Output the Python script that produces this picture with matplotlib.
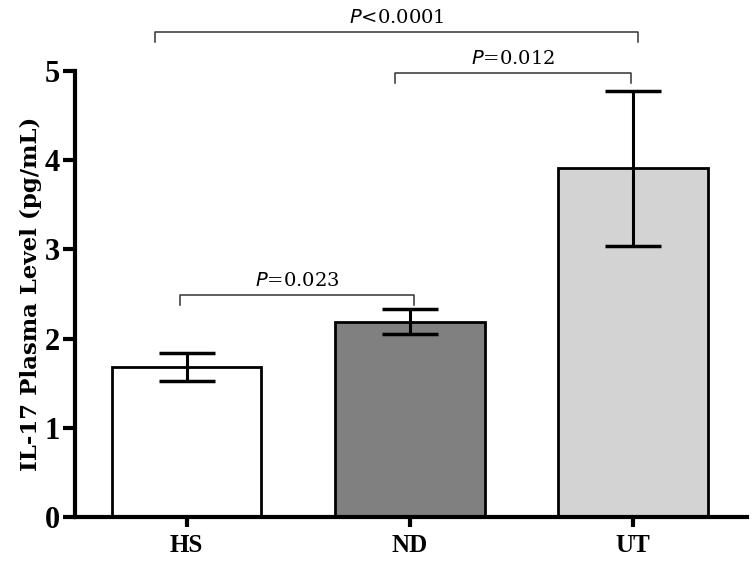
import numpy as np
import matplotlib.pyplot as plt

# Data
groups = ["HS", "ND", "UT"]
means = [1.68, 2.19, 3.91]
errors = [0.16, 0.14, 0.87]
bar_colors = ["#ffffff", "#808080", "#d3d3d3"]

# significance brackets: (left x, right x, height, label)
bracket_left = [-0.03, 0.935, -0.14]
bracket_right = [1.02, 1.99, 2.02]
bracket_y = [2.49, 4.98, 5.44]
bracket_labels = [("0.023", "="), ("0.012", "="), ("0.0001", "<")]


def main():
    fig = plt.figure(figsize=(7.55, 5.67), dpi=100)
    ax = fig.add_axes([0.0993, 0.0882, 0.890, 0.7866])

    x = np.arange(len(groups))
    ax.bar(x, means, width=0.67, color=bar_colors, edgecolor="black", linewidth=2, zorder=2)
    ax.errorbar(x, means, yerr=errors, fmt="none", ecolor="black", elinewidth=2.2,
                capsize=20, capthick=2.5, zorder=3)

    # brackets
    drop = 0.11
    for xl, xr, y, (val, op) in zip(bracket_left, bracket_right, bracket_y, bracket_labels):
        ax.plot([xl, xl, xr, xr], [y - drop, y, y, y - drop], color="#333333",
                lw=1.1, clip_on=False)
        ax.text((xl + xr) / 2, y + 0.05, r"$\it{P}$" + op + val, ha="center", va="bottom",
                fontsize=14, family="DejaVu Serif", clip_on=False)

    ax.set_xlim(-0.5, 2.51)
    ax.set_ylim(0, 5)
    ax.set_yticks(range(6))
    ax.set_xticks(x)
    ax.set_xticklabels(groups)

    for side in ["top", "right"]:
        ax.spines[side].set_visible(False)
    for side in ["left", "bottom"]:
        ax.spines[side].set_linewidth(3)

    ax.tick_params(axis="y", length=9, width=3, pad=2)
    ax.tick_params(axis="x", length=7, width=3, pad=5)
    for lab in ax.get_yticklabels():
        lab.set_fontfamily("Liberation Serif")
        lab.set_fontweight("bold")
        lab.set_fontsize(22)
    for lab in ax.get_xticklabels():
        lab.set_fontfamily("Liberation Serif")
        lab.set_fontweight("bold")
        lab.set_fontsize(18)

    ax.set_ylabel("IL-17 Plasma Level (pg/mL)", fontsize=16.5, fontweight="bold",
                  family="DejaVu Serif", labelpad=2)

    plt.savefig("out.png", dpi=100, facecolor="white")
    plt.close(fig)


if __name__ == "__main__":
    main()
